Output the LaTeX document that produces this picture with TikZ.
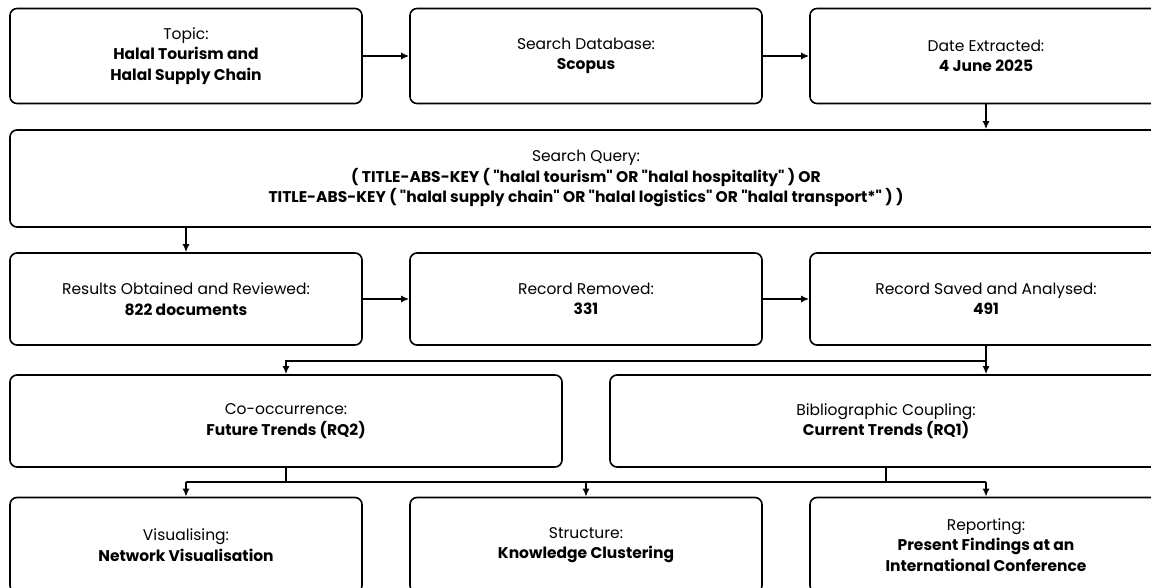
\documentclass[tikz,border=0pt]{standalone}
\usepackage{fontspec}
\setmainfont{Poppins}[Ligatures=TeXOff]
\usetikzlibrary{arrows.meta}

\begin{document}
\begin{tikzpicture}[x=1pt, y=-1pt, >={Latex[length=8pt,width=7pt]},
          font=\fontsize{15.5}{20.5}\selectfont,
          box/.style={draw, line width=1.6pt, rounded corners=7pt, align=center, inner sep=0pt, minimum height=95pt, minimum width=352pt},
          arr/.style={->, line width=1.6pt},
          lnk/.style={line width=1.6pt}]
        \useasboundingbox (0,0) rectangle (1151,588);
        \clip (0,0) rectangle (1151,588);
        % row 1
        \node[box] (topic) at (186,56) {Topic:\\\textbf{Halal Tourism and}\\\textbf{Halal Supply Chain}};
        \node[box] (db) at (586,56) {Search Database:\\\textbf{Scopus}};
        \node[box] (date) at (986,56) {Date Extracted:\\\textbf{4 June 2025}};
        % query
        \node[box, minimum width=1152pt, minimum height=97pt] (query) at (586,178.5) {Search Query:\\\textbf{( TITLE-ABS-KEY ( "halal tourism" OR "halal hospitality" ) OR}\\\textbf{TITLE-ABS-KEY ( "halal supply chain" OR "halal logistics" OR "halal transport*" ) )}};
        % row 3
        \node[box, minimum height=92pt] (results) at (186,299) {Results Obtained and Reviewed:\\\textbf{822 documents}};
        \node[box, minimum height=92pt] (removed) at (586,299) {Record Removed:\\\textbf{331}};
        \node[box, minimum height=92pt] (saved) at (986,299) {Record Saved and Analysed:\\\textbf{491}};
        % row 4
        \node[box, minimum width=552pt, minimum height=92pt] (cooc) at (286,421) {Co-occurrence:\\\textbf{Future Trends (RQ2)}};
        \node[box, minimum width=552pt, minimum height=92pt] (biblio) at (886,421) {Bibliographic Coupling:\\\textbf{Current Trends (RQ1)}};
        % row 5
        \node[box, minimum height=95pt] (vis) at (186,545) {Visualising:\\\textbf{Network Visualisation}};
        \node[box, minimum height=95pt] (struct) at (586,545) {Structure:\\\textbf{Knowledge Clustering}};
        \node[box, minimum height=95pt] (report) at (986,545) {Reporting:\\\textbf{Present Findings at an}\\\textbf{International Conference}};
        \coordinate (j1) at (986,361);
        \coordinate (j2) at (586,482);
        \draw[arr] (topic) -- (db);
        \draw[arr] (db) -- (date);
        \draw[arr] (date) -- (query.north -| date);
        \draw[arr] (query.south -| results) -- (results);
        \draw[arr] (results) -- (removed);
        \draw[arr] (removed) -- (saved);
        \draw[arr] (saved) -- (biblio.north -| saved);
        \draw[arr] (j1) -| (cooc);
        \draw[lnk] (cooc) -- (cooc |- j2);
        \draw[lnk] (biblio) -- (biblio |- j2);
        \draw[lnk] (vis |- j2) -- (report |- j2);
        \draw[arr] (vis |- j2) -- (vis);
        \draw[arr] (j2) -- (struct);
        \draw[arr] (report |- j2) -- (report);
      \end{tikzpicture}
\end{document}
